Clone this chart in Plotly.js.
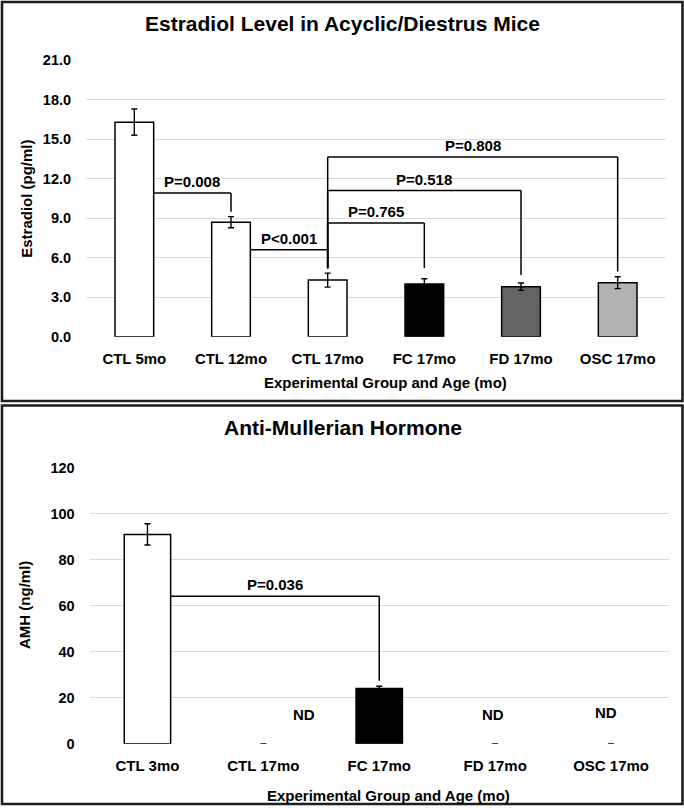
<!DOCTYPE html>
<html>
<head>
<meta charset="utf-8">
<script src="https://cdn.plot.ly/plotly-3.0.1.min.js"></script>
<style>html,body{margin:0;padding:0;background:#fff;}#chart{width:684px;height:808px;}</style>
</head>
<body>
<div id="chart"></div>
<script>
// ---------- Data ----------
const estCats = ['CTL 5mo', 'CTL 12mo', 'CTL 17mo', 'FC 17mo', 'FD 17mo', 'OSC 17mo'];
const estVals = [16.3, 8.7, 4.3, 4.0, 3.8, 4.1];
const estErr = [1.0, 0.42, 0.53, 0.4, 0.28, 0.45];
const estColors = ['#ffffff', '#ffffff', '#ffffff', '#000000', '#646464', '#b2b2b2'];
const estTicks = [0, 3, 6, 9, 12, 15, 18, 21];

// brackets: from index, to index, bracket height, right drop end, left drop (null = start at bar edge)
const estBrFrom = [0, 1, 2, 2, 2];
const estBrTo = [1, 2, 3, 4, 5];
const estBrHeight = [10.92, 6.6, 8.63, 11.1, 13.66];
const estBrDropR = [9.5, 5.2, 5.22, 4.69, 4.96];
const estBrDropL = [null, null, 5.2, 5.2, 5.2];
const estBrText = ['P=0.008', 'P<0.001', 'P=0.765', 'P=0.518', 'P=0.808'];

const amhCats = ['CTL 3mo', 'CTL 17mo', 'FC 17mo', 'FD 17mo', 'OSC 17mo'];
const amhVals = [91.0, 0, 24.0, 0, 0];
const amhErr = [4.6, 0, 1.0, 0, 0];
const amhColors = ['#ffffff', '#ffffff', '#000000', '#646464', '#b2b2b2'];
const amhTicks = [0, 20, 40, 60, 80, 100, 120];
const amhND = ['', 'ND', '', 'ND', 'ND'];
const amhNDy = [0, 12.8, 0, 12.8, 13.5];

const amhBrFrom = [0];
const amhBrTo = [2];
const amhBrHeight = [64.1];
const amhBrDropR = [27.4];
const amhBrDropL = [null];
const amhBrText = ['P=0.036'];

// ---------- Styling ----------
const FONT = 'Liberation Sans, Arial, Helvetica, sans-serif';
const W = 684, H = 808;
const BARW = 0.4;
const py = p => 1 - p / H;
const px = p => p / W;

function barTrace(cats, vals, err, colors, xa, ya) {
  return {
    type: 'bar', x: cats, y: vals, xaxis: xa, yaxis: ya,
    width: BARW,
    marker: {color: colors, line: {color: '#000', width: vals.map(v => v === 0 ? 0 : 1.5)}},
    error_y: {type: 'data', array: err, visible: true, color: '#000', thickness: 1.4, width: 3},
    hoverinfo: 'skip', showlegend: false
  };
}

function brackets(from, to, h, dropR, dropL, texts, xr, yr, shapes, anns) {
  for (let k = 0; k < from.length; k++) {
    const start = dropL[k] === null ? from[k] + BARW / 2 : from[k];
    const line = {type: 'line', xref: xr, yref: yr, line: {color: '#000', width: 1.5}};
    shapes.push(Object.assign({}, line, {x0: start, x1: to[k], y0: h[k], y1: h[k]}));
    shapes.push(Object.assign({}, line, {x0: to[k], x1: to[k], y0: h[k], y1: dropR[k]}));
    if (dropL[k] !== null) {
      shapes.push(Object.assign({}, line, {x0: from[k], x1: from[k], y0: h[k], y1: dropL[k]}));
    }
    anns.push({xref: xr, yref: yr, x: (start + to[k]) / 2, y: h[k], text: texts[k],
      showarrow: false, xanchor: 'center', yanchor: 'bottom', yshift: 1,
      font: {family: FONT, size: 15, weight: 'bold', color: '#000'}});
  }
}

const shapes = [];
const anns = [];

// panel borders
shapes.push({type: 'rect', xref: 'paper', yref: 'paper', x0: px(2), x1: px(682.5), y0: py(2), y1: py(401), line: {color: '#1e1e1e', width: 2.6}, fillcolor: 'rgba(0,0,0,0)', layer: 'above'});
shapes.push({type: 'rect', xref: 'paper', yref: 'paper', x0: px(2), x1: px(682.5), y0: py(405.5), y1: py(804), line: {color: '#1e1e1e', width: 2.6}, fillcolor: 'rgba(0,0,0,0)', layer: 'above'});

brackets(estBrFrom, estBrTo, estBrHeight, estBrDropR, estBrDropL, estBrText, 'x', 'y', shapes, anns);
brackets(amhBrFrom, amhBrTo, amhBrHeight, amhBrDropR, amhBrDropL, amhBrText, 'x2', 'y2', shapes, anns);

// ND labels
const ndShift = [0, 41, 0, -2, -5];
amhND.forEach((t, i) => {
  if (t) anns.push({xref: 'x2', yref: 'y2', x: i, y: amhNDy[i], text: t, showarrow: false,
    xshift: ndShift[i], xanchor: 'center', yanchor: 'middle',
    font: {family: FONT, size: 15, weight: 'bold', color: '#000'}});
});

// titles
function txt(x, y, text, size, angle) {
  return {xref: 'paper', yref: 'paper', x: px(x), y: py(y), text: text, showarrow: false,
    xanchor: 'center', yanchor: 'middle', textangle: angle || 0,
    font: {family: FONT, size: size, weight: 'bold', color: '#000'}};
}
anns.push(txt(342.5, 23, 'Estradiol Level in Acyclic/Diestrus Mice', 21));
anns.push(txt(342.5, 427, 'Anti-Mullerian Hormone', 21));
anns.push(txt(385.5, 382, 'Experimental Group and Age (mo)', 15));
anns.push(txt(388, 795, 'Experimental Group and Age (mo)', 15));
anns.push(txt(25.8, 199, 'Estradiol (pg/ml)', 15, -90));
anns.push(txt(24.5, 605.5, 'AMH (ng/ml)', 15, -90));

const tickFontY = {family: FONT, size: 14.5, weight: 'bold', color: '#000'};
const tickFontX = {family: FONT, size: 15, weight: 'bold', color: '#000'};

const xBase = {type: 'category', showgrid: false, zeroline: false, showline: false,
  ticks: 'outside', ticklen: 8, tickcolor: 'rgba(0,0,0,0)', tickfont: tickFontX, fixedrange: true};
const yBase = {showgrid: true, gridcolor: '#d9d9d9', gridwidth: 1, zeroline: false, showline: false,
  ticks: 'outside', ticklen: 11, tickcolor: 'rgba(0,0,0,0)', tickfont: tickFontY, tickmode: 'array', fixedrange: true};

const layout = {
  width: W, height: H,
  margin: {l: 0, r: 0, t: 0, b: 0, pad: 0},
  paper_bgcolor: '#fff', plot_bgcolor: '#fff',
  font: {family: FONT, weight: 'bold', color: '#000'},
  showlegend: false,
  bargap: 0.6,
  xaxis: Object.assign({}, xBase, {domain: [px(86), px(666)], anchor: 'y', range: [-0.5, 5.5]}),
  yaxis: Object.assign({}, yBase, {domain: [py(336.7), py(60.3)], anchor: 'x', range: [0, 21],
    tickvals: estTicks, ticktext: estTicks.map(v => v.toFixed(1))}),
  xaxis2: Object.assign({}, xBase, {domain: [px(89.5), px(669)], anchor: 'y2', range: [-0.5, 4.5]}),
  yaxis2: Object.assign({}, yBase, {domain: [py(743.7), py(467.7)], anchor: 'x2', range: [0, 120],
    tickvals: amhTicks, ticktext: amhTicks.map(v => String(v))}),
  shapes: shapes,
  annotations: anns
};

const data = [
  barTrace(estCats, estVals, estErr, estColors, 'x', 'y'),
  barTrace(amhCats, amhVals, amhErr, amhColors, 'x2', 'y2')
];

Plotly.newPlot('chart', data, layout, {staticPlot: true, displayModeBar: false});
</script>
</body>
</html>
